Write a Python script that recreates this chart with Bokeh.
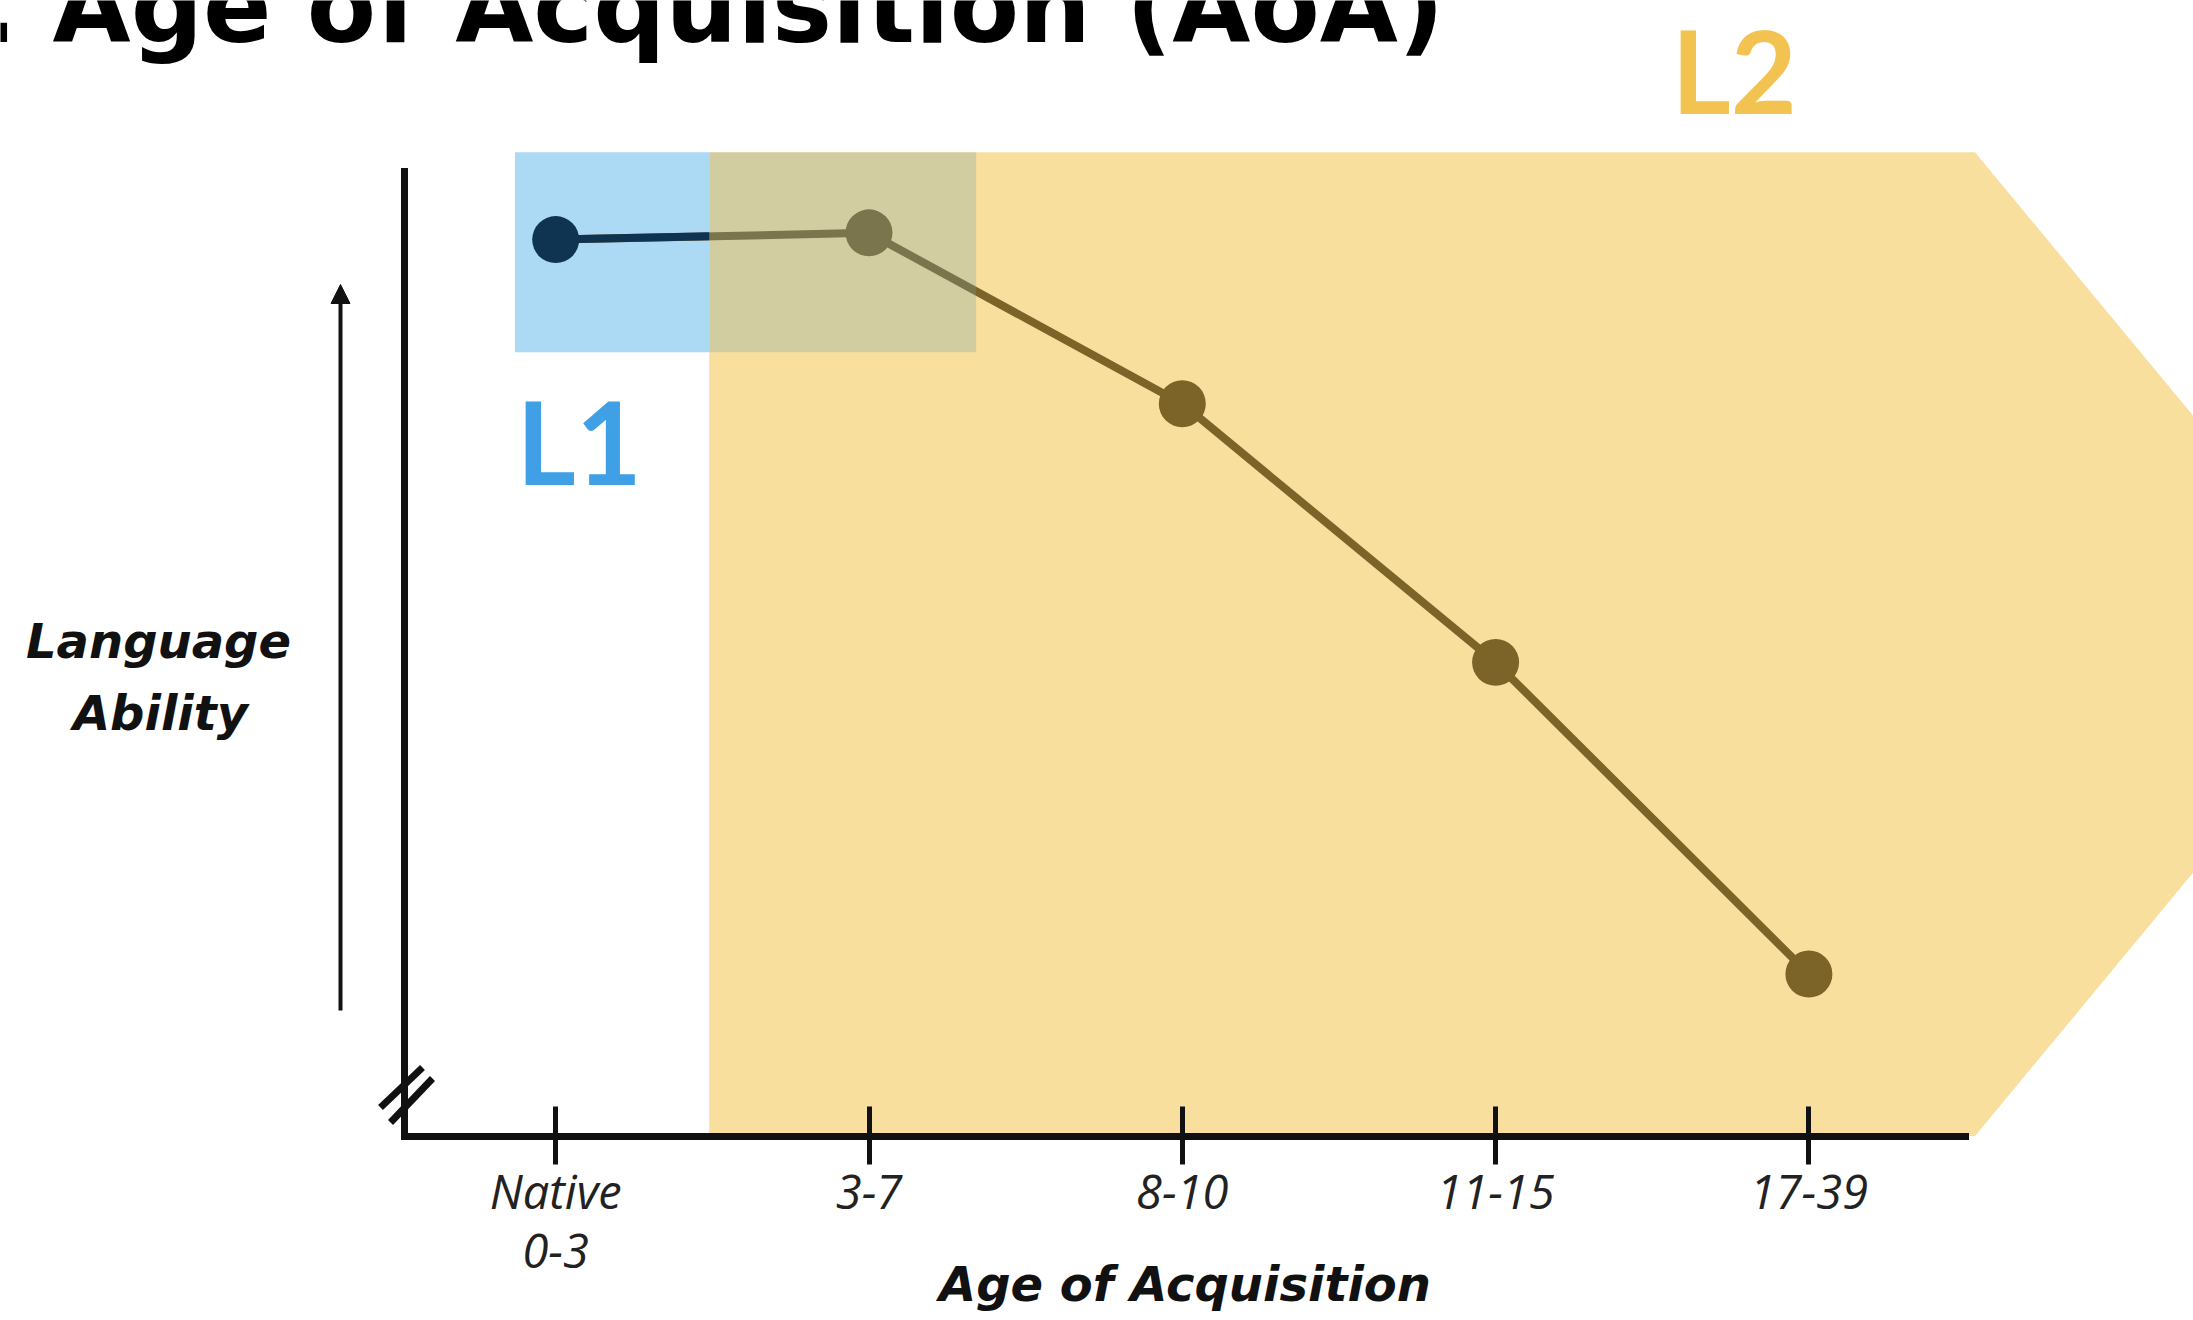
import numpy as np
from bokeh.plotting import figure
from bokeh.core.properties import value
from bokeh.models import (Range1d, LinearAxis, FixedTicker, Arrow, Label,
                          NormalHead, ColumnDataSource)
from bokeh.embed import file_html
from bokeh.resources import INLINE

# ---------------- data ----------------
age_groups = ["Native\n0-3", "3-7", "8-10", "11-15", "17-39"]
language_ability = [92.9, 93.6, 75.9, 49.1, 16.8]
title_text = ". Age of Acquisition (AoA)"
x_title = "Age of Acquisition"
y_title_lines = ["Language", "Ability"]
region_names = ["L1", "L2"]

# ---------------- layout (canvas pixels) ----------------
W, H = 2193, 1320
X0_PX, X_STEP = 555.2, 313.3      # canvas x of first category, px per category
Y0_PX, Y_STEP = 1135.7, 9.651     # canvas y of ability 0, px per ability unit


def ux(px):
    return (px - X0_PX) / X_STEP


def vy(py):
    return (Y0_PX - py) / Y_STEP


YELLOW = "#f8df9e"
BLUE = "#acd9f3"
BROWN = "#7c6328"
NAVY = "#0e3452"
OVERLAY = (117, 161, 164)
L1_COLOR = "#3fa0e6"
L2_COLOR = "#f3c352"
INK = "#111111"

# region geometry (category-index units / ability units)
REG_TOP, REG_L1_BOTTOM = vy(151.7), vy(351.7)
L1_LEFT, L2_LEFT, L1_RIGHT = -0.13, 0.49, 1.342
L2_RIGHT, L2_TIP = 4.53, 5.83
AXIS_X = ux(404)
AXIS_X_END = ux(1965)

p = figure(width=W, height=H, x_range=Range1d(ux(0), ux(W)),
           y_range=Range1d(vy(H), vy(0)), x_axis_type=None, y_axis_type=None,
           output_backend="svg", toolbar_location=None, min_border=0, title=None)
p.outline_line_color = None
p.background_fill_color = "white"
p.border_fill_color = "white"

# L2 region (arrow-shaped band)
p.patch([L2_LEFT, L2_LEFT, L2_RIGHT, L2_TIP, L2_RIGHT],
        [0, REG_TOP, REG_TOP, REG_TOP / 2, 0],
        fill_color=YELLOW, line_color=None)
# L1 region
p.quad(left=[L1_LEFT], right=[L2_LEFT], bottom=[REG_L1_BOTTOM], top=[REG_TOP],
       fill_color=BLUE, line_color=None)

idx = np.arange(len(age_groups), dtype=float)
ab = np.array(language_ability)
src = ColumnDataSource(dict(x=idx, y=ab))
p.line("x", "y", source=src, line_width=8, line_color=BROWN)
p.scatter(x=idx[1:], y=ab[1:], size=47, fill_color=BROWN, line_color=None)

# L1 part of the curve
yb = float(np.interp(L2_LEFT, idx, ab))
p.line([idx[0], L2_LEFT], [ab[0], yb], line_width=8, line_color=NAVY)
p.scatter(x=idx[:1], y=ab[:1], size=47, fill_color=NAVY, line_color=None)

# overlap of L1 and L2
p.quad(left=[L2_LEFT], right=[L1_RIGHT], bottom=[REG_L1_BOTTOM], top=[REG_TOP],
       fill_color=OVERLAY, fill_alpha=0.29, line_color=None)

# axes
xaxis = LinearAxis(fixed_location=0, bounds=(AXIS_X, AXIS_X_END),
                   ticker=FixedTicker(ticks=list(range(len(age_groups)))),
                   major_label_overrides={i: lab for i, lab in enumerate(age_groups)})
xaxis.axis_line_width = 7
xaxis.axis_line_color = INK
xaxis.axis_line_cap = "square"
xaxis.major_tick_in = 30
xaxis.major_tick_out = 28
xaxis.major_tick_line_width = 5
xaxis.major_tick_line_color = INK
xaxis.minor_tick_line_color = None
xaxis.major_label_standoff = -5
xaxis.major_label_text_font = "Open Sans"
xaxis.major_label_text_font_style = "italic"
xaxis.major_label_text_font_size = "47px"
xaxis.major_label_text_line_height = 0.92
xaxis.major_label_text_color = "#222222"
p.add_layout(xaxis, "below")

yaxis = LinearAxis(fixed_location=AXIS_X, bounds=(0, 100),
                   ticker=FixedTicker(ticks=[]))
yaxis.axis_line_width = 7
yaxis.axis_line_color = INK
yaxis.axis_line_cap = "square"
yaxis.major_tick_line_color = None
yaxis.minor_tick_line_color = None
yaxis.major_label_text_font_size = "0px"
p.add_layout(yaxis, "left")

# axis break marks
p.segment(x0=[ux(380), ux(390)], y0=[vy(1107), vy(1122)],
          x1=[ux(422), ux(432)], y1=[vy(1067), vy(1078)],
          line_width=7, line_color=INK)

# "more ability" arrow
p.add_layout(Arrow(x_start=ux(340), y_start=vy(1010), x_end=ux(340), y_end=vy(284),
                   line_width=4, line_color=INK,
                   end=NormalHead(size=19, fill_color=INK, line_color=INK, line_width=1)))


def put_text(x, y_bottom, txt, font, style, size, color, align):
    p.text(x=[x], y=[y_bottom], text=[txt], text_font=value(font), text_font_style=style,
           text_font_size=value(size), text_color=color,
           text_baseline="bottom", text_align=align)


put_text(ux(1184.5), vy(1311), x_title, "DejaVu Sans", "bold italic", "48px",
         "#111111", "center")
put_text(ux(158), vy(668), y_title_lines[0], "DejaVu Sans", "bold italic", "48px",
         "#111111", "center")
put_text(ux(160), vy(740), y_title_lines[1], "DejaVu Sans", "bold italic", "48px",
         "#111111", "center")
put_text(ux(516), vy(508), region_names[0], "Lato", "bold", "114px", L1_COLOR, "left")
put_text(ux(1671), vy(137), region_names[1], "Lato", "bold", "114px", L2_COLOR, "left")

# slide title (cut by the top edge, as in the source); 101px avoids the
# "[1-9]00" weight ambiguity of the SVG font parser
p.add_layout(Label(x=ux(-21.5), y=vy(65), text=title_text, text_font="DejaVu Sans",
                   text_font_style="bold", text_font_size="101px",
                   text_color="black", text_baseline="bottom", text_align="left"))

open("out.html", "w").write(file_html(p, INLINE, title="Age of Acquisition"))
